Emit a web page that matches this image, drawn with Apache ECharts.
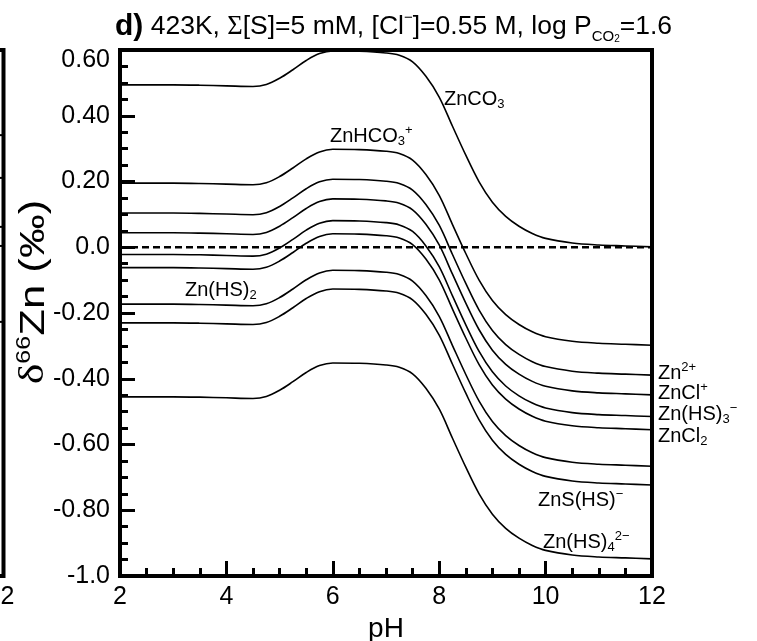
<!DOCTYPE html>
<html><head><meta charset="utf-8">
<script src="https://cdn.jsdelivr.net/npm/echarts@6/dist/echarts.min.js"></script>
<style>html,body{margin:0;padding:0;background:#fff}#c{width:757px;height:641px}</style>
</head><body><div id="c"></div>
<script>
const pH = [2,2.5,3,3.5,4,4.5,4.75,5,5.25,5.5,5.75,6,6.5,7,7.25,7.5,7.75,8,8.25,8.5,8.75,9,9.25,9.5,9.75,10,10.5,11,11.5,12];
const ZnCO3   = [0.494,0.494,0.494,0.493,0.491,0.489,0.495,0.514,0.540,0.568,0.589,0.597,0.596,0.591,0.584,0.564,0.520,0.457,0.368,0.280,0.199,0.137,0.094,0.064,0.042,0.027,0.013,0.007,0.004,0.001];
const ZnHCO3  = [0.195,0.195,0.195,0.194,0.192,0.190,0.196,0.215,0.241,0.269,0.290,0.298,0.297,0.292,0.285,0.265,0.221,0.158,0.069,-0.019,-0.100,-0.162,-0.205,-0.235,-0.257,-0.272,-0.286,-0.292,-0.295,-0.298];
const Zn2p    = [0.104,0.104,0.104,0.103,0.101,0.099,0.105,0.124,0.150,0.178,0.199,0.207,0.206,0.201,0.194,0.174,0.130,0.067,-0.022,-0.110,-0.191,-0.253,-0.296,-0.326,-0.348,-0.363,-0.377,-0.383,-0.386,-0.389];
const ZnClp   = [0.044,0.044,0.044,0.043,0.041,0.039,0.045,0.064,0.090,0.118,0.139,0.147,0.146,0.141,0.134,0.114,0.070,0.007,-0.082,-0.170,-0.251,-0.313,-0.356,-0.386,-0.408,-0.423,-0.437,-0.443,-0.446,-0.449];
const ZnHS3   = [-0.022,-0.022,-0.022,-0.023,-0.025,-0.027,-0.021,-0.002,0.024,0.052,0.073,0.081,0.080,0.075,0.068,0.048,0.004,-0.059,-0.148,-0.236,-0.317,-0.379,-0.422,-0.452,-0.474,-0.489,-0.503,-0.509,-0.512,-0.515];
const ZnCl2   = [-0.062,-0.062,-0.062,-0.063,-0.065,-0.067,-0.061,-0.042,-0.016,0.012,0.033,0.041,0.040,0.035,0.028,0.008,-0.036,-0.099,-0.188,-0.276,-0.357,-0.419,-0.462,-0.492,-0.514,-0.529,-0.543,-0.549,-0.552,-0.555];
const ZnHS2   = [-0.173,-0.173,-0.173,-0.174,-0.176,-0.178,-0.172,-0.153,-0.127,-0.099,-0.078,-0.070,-0.071,-0.076,-0.083,-0.103,-0.147,-0.210,-0.299,-0.387,-0.468,-0.530,-0.573,-0.603,-0.625,-0.640,-0.654,-0.660,-0.663,-0.666];
const ZnSHS   = [-0.230,-0.230,-0.230,-0.231,-0.233,-0.235,-0.229,-0.210,-0.184,-0.156,-0.135,-0.127,-0.128,-0.133,-0.140,-0.160,-0.204,-0.267,-0.356,-0.444,-0.525,-0.587,-0.630,-0.660,-0.682,-0.697,-0.711,-0.717,-0.720,-0.723];
const ZnHS4   = [-0.455,-0.455,-0.455,-0.456,-0.458,-0.460,-0.454,-0.435,-0.409,-0.381,-0.360,-0.352,-0.353,-0.358,-0.365,-0.385,-0.429,-0.492,-0.581,-0.669,-0.750,-0.812,-0.855,-0.885,-0.907,-0.922,-0.936,-0.942,-0.945,-0.948];
const zeroLine = [[2,0],[12,0]];
const prevPanelEnds = [0.341, 0.211, 0.062, 0.004, -0.227];
const yTickLabels = ['-1.0','-0.80','-0.60','-0.40','-0.20','0.0','0.20','0.40','0.60'];

const F = 'Liberation Sans, Arial, sans-serif';
const curves = [ZnCO3, ZnHCO3, Zn2p, ZnClp, ZnHS3, ZnCl2, ZnHS2, ZnSHS, ZnHS4];

const chart = echarts.init(document.getElementById('c'), null, {renderer:'canvas'});
const series = curves.map(arr => ({
  type:'line', xAxisIndex:0, yAxisIndex:0, data: pH.map((x,i)=>[x,arr[i]]),
  showSymbol:false, smooth:0.35, silent:true, lineStyle:{color:'#000', width:1.6}
}));
series.push({type:'line', xAxisIndex:0, yAxisIndex:0, data: zeroLine, showSymbol:false, silent:true,
  lineStyle:{color:'#000', width:2.5, type:[7,4]}});
prevPanelEnds.forEach(v => series.push({type:'line', xAxisIndex:1, yAxisIndex:1,
  data:[[11.8,v],[12,v]], showSymbol:false, silent:true, lineStyle:{color:'#000', width:2}}));

const lblRich = {
  m:{fontSize:20, fontFamily:F, lineHeight:24, verticalAlign:'middle', fill:'#000'},
  b:{fontSize:13, fontFamily:F, lineHeight:12, verticalAlign:'bottom', fill:'#000'},
  t:{fontSize:13, fontFamily:F, lineHeight:12, verticalAlign:'top', fill:'#000'}
};
function lbl(x, y, text){
  return {type:'text', x:x, y:y, silent:true, z:100,
    style:{text:text, rich:lblRich, fill:'#000', font:'20px '+F, align:'left', verticalAlign:'middle'}};
}

const option = {
  animation:false,
  backgroundColor:'#fff',
  grid:[
    {left:120, right:105, top:50, bottom:65, show:true, borderColor:'#000', borderWidth:4, containLabel:false, outerBoundsMode:'none'},
    {left:-400, right:753.5, top:50, bottom:65, show:true, borderColor:'#000', borderWidth:4, containLabel:false, outerBoundsMode:'none'}
  ],
  xAxis:[
    {gridIndex:0, type:'value', min:2, max:12, interval:2,
     axisLine:{show:true, onZero:false, lineStyle:{color:'#000', width:4}},
     axisTick:{show:true, inside:true, length:15, lineStyle:{color:'#000', width:3}},
     minorTick:{show:true, splitNumber:4, length:8, lineStyle:{color:'#000', width:3}},
     splitLine:{show:false}, minorSplitLine:{show:false},
     axisLabel:{margin:9, fontSize:25, color:'#000', fontFamily:F},
     name:'pH', nameLocation:'middle', nameGap:28, nameTextStyle:{fontSize:28, color:'#000', fontFamily:F}},
    {gridIndex:1, type:'value', min:2, max:12, interval:2,
     axisLine:{show:false}, axisTick:{show:false}, splitLine:{show:false},
     axisLabel:{margin:9, fontSize:25, color:'#000', fontFamily:F, padding:[0,6,0,0]}}
  ],
  yAxis:[
    {gridIndex:0, type:'value', min:-1, max:0.6, interval:0.2,
     axisLine:{show:true, onZero:false, lineStyle:{color:'#000', width:4}},
     axisTick:{show:true, inside:true, length:15, lineStyle:{color:'#000', width:3}},
     minorTick:{show:true, splitNumber:4, length:8, lineStyle:{color:'#000', width:3}},
     splitLine:{show:false}, minorSplitLine:{show:false},
     axisLabel:{margin:10, fontSize:25, color:'#000', fontFamily:F,
       formatter:(v)=>{const s = yTickLabels[Math.round((v+1)/0.2)]; return v>0.59 ? '{top|'+s+'}' : s;},
       rich:{top:{fontSize:25, fontFamily:F, color:'#000', padding:[20,0,0,0]}}}},
    {gridIndex:1, type:'value', min:-1, max:0.6, show:false}
  ],
  series:series,
  graphic:[
    {type:'text', x:115, y:27, silent:true, style:{
      text:'{d|d)} {n|423K, }{g|Σ}{n|[S]=5 mM, [Cl}{t|−}{n|]=0.55 M, log P}{b|CO}{b2|2}{n|=1.6}',
      fill:'#000', font:'26.5px '+F, align:'left', verticalAlign:'middle',
      rich:{
        d:{fontSize:30, fontWeight:'bold', fontFamily:F, lineHeight:34, fill:'#000'},
        n:{fontSize:26.5, fontFamily:F, lineHeight:34, fill:'#000'},
        g:{fontSize:26.5, fontFamily:'Liberation Serif, serif', lineHeight:34, fill:'#000'},
        t:{fontSize:15, fontFamily:F, lineHeight:16, verticalAlign:'top', fill:'#000'},
        b:{fontSize:15, fontFamily:F, lineHeight:14, verticalAlign:'bottom', fill:'#000'},
        b2:{fontSize:10, fontFamily:F, lineHeight:8, verticalAlign:'bottom', fill:'#000'}
      }}},
    {type:'text', x:34, y:292, rotation:Math.PI/2, scaleX:1.25, silent:true, style:{
      text:'{d|δ}{s|66}{m|Zn (‰)}', fill:'#000', font:'35px '+F, align:'center', verticalAlign:'middle',
      rich:{
        d:{fontSize:35, fontFamily:'Liberation Serif, serif', lineHeight:40, fill:'#000'},
        s:{fontSize:20, fontFamily:F, lineHeight:18, verticalAlign:'top', fill:'#000'},
        m:{fontSize:35, fontFamily:F, lineHeight:40, fill:'#000'}
      }}},
    lbl(444, 99, '{m|ZnCO}{b|3}'),
    lbl(330, 136, '{m|ZnHCO}{b|3}{t|+}'),
    lbl(185, 290, '{m|Zn(HS)}{b|2}'),
    lbl(658, 373, '{m|Zn}{t|2+}'),
    lbl(658, 393, '{m|ZnCl}{t|+}'),
    lbl(658, 414, '{m|Zn(HS)}{b|3}{t|−}'),
    lbl(658, 436, '{m|ZnCl}{b|2}'),
    lbl(538, 500, '{m|ZnS(HS)}{t|−}'),
    lbl(543, 542, '{m|Zn(HS)}{b|4}{t|2−}')
  ]
};
chart.setOption(option);
</script></body></html>
